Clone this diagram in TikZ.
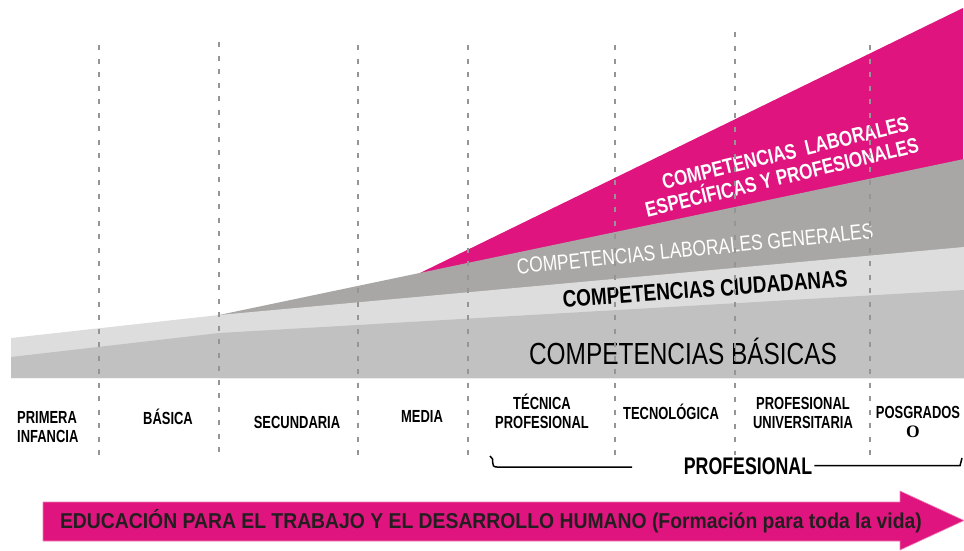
\documentclass[tikz,border=0pt]{standalone}
\usepackage{fontspec}
\setmainfont{Liberation Sans}
\newfontfamily\nar[FakeStretch=0.8]{Liberation Sans}
\newfontfamily\narl[FakeStretch=0.74]{Liberation Sans}
\newfontfamily\narw[FakeStretch=0.9]{Liberation Sans}
\newfontfamily\serifb{Liberation Serif}
\definecolor{mag}{HTML}{E0147E}
\definecolor{magedge}{HTML}{EE7DB5}
\definecolor{gdark}{HTML}{A9A7A5}
\definecolor{glight}{HTML}{DDDDDD}
\definecolor{gbasic}{HTML}{C1C1C1}
\definecolor{sepcol}{HTML}{959595}
\definecolor{arrtxt}{HTML}{231F20}
\begin{document}
\begin{tikzpicture}[x=1pt,y=-1pt,
  sepline/.style={draw=sepcol, line width=2.4pt, dash pattern=on 5pt off 8.5pt},
  lab/.style={font=\narl\bfseries\fontsize{17.5}{19}\selectfont, inner sep=0pt, align=center},
  brk/.style={draw=black, line width=1.5pt},
  arrowsty/.style={fill=mag, draw=magedge, line width=0.6pt}
]
\useasboundingbox (0,0) rectangle (964,550);
% bands
\fill[mag] (420,273) -- (963,8) -- (963,378) -- cycle;
\fill[gdark] (219,315) -- (964,159) -- (964,378) -- (219,378) -- cycle;
\fill[glight] (11,338) -- (219,315) -- (964,247) -- (964,378) -- (11,378) -- cycle;
\fill[gbasic] (11,357) -- (219,333) -- (964,290) -- (964,378) -- (11,378) -- cycle;
% band texts
\node[inner sep=0pt, font=\nar\fontsize{30.5}{36}\selectfont] (bas) at (683,351) {COMPETENCIAS BÁSICAS};
\node[inner sep=0pt, font=\nar\bfseries\fontsize{23.7}{28}\selectfont, rotate=4.2] (ciu) at (705,289) {COMPETENCIAS CIUDADANAS};
\node[inner sep=0pt, text=white, font=\nar\fontsize{21.7}{26}\selectfont, rotate=5.7] (gen) at (695,249) {COMPETENCIAS LABORALES GENERALES};
\node[inner sep=0pt, text=white, align=center, font=\nar\bfseries\fontsize{21.3}{23}\selectfont, rotate=13.5] (esp) at (788,164) {COMPETENCIAS\ \ LABORALES\\ESPECÍFICAS Y PROFESIONALES\hspace*{18pt}};
% separators
\foreach \x/\t/\b in {99/45/460, 219/42/457, 358/45/460, 468/45/462, 615/45/462, 735/32/455, 870/45/462}
  \draw[sepline] (\x,\t) -- (\x,\b);
% level labels (base = baseline of last line)
\node[lab, align=left, anchor=base west] (pi) at (17,442) {PRIMERA\\INFANCIA};
\node[lab, anchor=base] (ba) at (168,424) {BÁSICA};
\node[lab, anchor=base] (se) at (297,428) {SECUNDARIA};
\node[lab, anchor=base] (me) at (422,422) {MEDIA};
\node[lab, anchor=base] (tp) at (542,428) {TÉCNICA\\PROFESIONAL};
\node[lab, anchor=base] (te) at (671,419) {TECNOLÓGICA};
\node[lab, anchor=base] (pu) at (803,428) {PROFESIONAL\\UNIVERSITARIA};
\node[lab, anchor=base] (po) at (918,437) {POSGRADOS\\{\serifb\bfseries O}\hspace*{10pt}};
% profesional bracket
\node[inner sep=2pt, anchor=base, font=\narl\bfseries\fontsize{24}{28}\selectfont] (prof) at (748,474) {PROFESIONAL};
\coordinate (bl) at (490,456);
\coordinate (bm) at (632,467);
\coordinate (bre) at (960,467);
\coordinate (br) at (962,458);
\draw[brk] (bl) .. controls (496,459) and (489,467) .. (497,467) -- (bm);
\draw[brk] (prof.east) -- (prof.east -| bre) -- (br);
% bottom arrow
\draw[arrowsty] (43,502) -- (900,502) -- (900,491) -- (964,520.5) -- (900,550) -- (900,541) -- (43,541) -- cycle;
\node[inner sep=0pt, text=arrtxt, font=\narw\bfseries\fontsize{21.5}{26}\selectfont] (edu) at (491,521.5) {EDUCACIÓN PARA EL TRABAJO Y EL DESARROLLO HUMANO (Formación para toda la vida)};
\end{tikzpicture}
\end{document}
